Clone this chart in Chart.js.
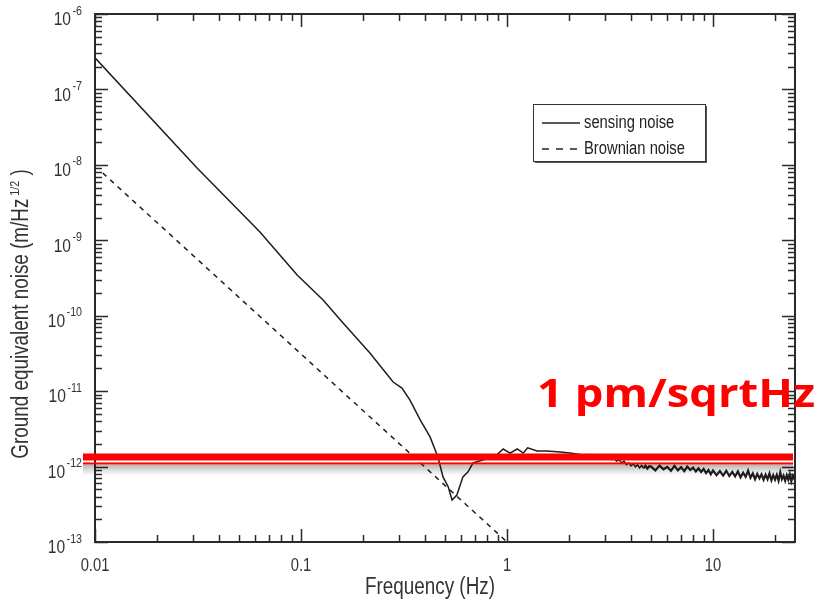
<!DOCTYPE html>
<html>
<head>
<meta charset="utf-8">
<script src="https://cdn.jsdelivr.net/npm/chart.js@4"></script>
<style>
  html, body { margin: 0; padding: 0; background: #fff; }
</style>
</head>
<body>
<canvas id="noise-chart" width="819" height="601"></canvas>
<script>
// sensing noise (Hz, m/Hz^1/2)
const sensingFreq = [
  0.01, 0.0313, 0.0632, 0.0958, 0.128, 0.160, 0.216, 0.280, 0.309, 0.338,
  0.379, 0.423, 0.462, 0.489, 0.518, 0.541, 0.571, 0.611, 0.647, 0.684,
  0.764, 0.893, 0.958, 1.035, 1.12, 1.20, 1.26, 1.40, 1.56, 1.81, 2.02,
  2.3, 2.4, 2.5, 2.6, 2.7, 2.8, 2.9, 3.0, 3.1, 3.2, 3.3, 3.4, 3.5, 3.6,
  3.7, 3.8, 3.9, 4.0, 4.1, 4.2, 4.3, 4.4, 4.5, 4.6, 4.7, 4.8, 4.9,
  5.0, 5.25, 5.5, 5.75, 6.0, 6.25, 6.5, 6.75, 7.0, 7.25, 7.5, 7.75, 8.0,
  8.25, 8.5, 8.75, 9.0, 9.25, 9.5, 9.75, 10.0,
  10.4, 10.8, 11.2, 11.6, 12.0, 12.4, 12.8, 13.2, 13.6, 14.0, 14.4, 14.8,
  15.2, 15.6, 16.0, 16.4, 16.8, 17.2, 17.6, 18.0, 18.4, 18.8, 19.2, 19.6,
  20.0, 20.4, 20.8, 21.2, 21.6, 22.0, 22.4, 22.8, 23.2, 23.6, 24.0, 24.4,
  24.8, 25
];
const sensingNoise = [
  2.62e-7, 9.1e-9, 1.29e-9, 3.47e-10, 1.62e-10, 8.0e-11, 3.2e-11, 1.32e-11, 1.10e-11, 7.6e-12,
  4.15e-12, 2.47e-12, 1.34e-12, 7.3e-13, 5.4e-13, 3.6e-13, 4.2e-13, 7.3e-13, 8.5e-13, 1.12e-12,
  1.22e-12, 1.43e-12, 1.71e-12, 1.51e-12, 1.71e-12, 1.51e-12, 1.77e-12, 1.61e-12, 1.61e-12, 1.56e-12, 1.51e-12,
  1.43e-12, 1.40e-12, 1.44e-12, 1.37e-12, 1.41e-12, 1.34e-12, 1.38e-12, 1.29e-12, 1.33e-12, 1.24e-12, 1.29e-12, 1.18e-12, 1.23e-12, 1.12e-12,
  1.18e-12, 1.06e-12, 1.12e-12, 1.02e-12, 1.09e-12, 0.99e-12, 1.06e-12, 0.96e-12, 1.04e-12, 0.95e-12, 1.03e-12, 0.94e-12, 1.01e-12,
  1.00e-12, 0.89e-12, 1.03e-12, 0.92e-12, 0.99e-12, 0.88e-12, 1.02e-12, 0.89e-12, 0.98e-12, 0.87e-12, 1.00e-12, 0.90e-12, 0.97e-12,
  0.86e-12, 0.95e-12, 0.85e-12, 0.93e-12, 0.82e-12, 0.90e-12, 0.79e-12, 0.89e-12,
  7.7e-13, 8.7e-13, 7.6e-13, 8.8e-13, 7.5e-13, 8.5e-13, 7.4e-13, 8.6e-13, 7.2e-13, 8.3e-13, 7.3e-13, 8.8e-13,
  7.1e-13, 8.1e-13, 6.8e-13, 8.0e-13, 7.0e-13, 7.9e-13, 6.7e-13, 7.8e-13, 6.8e-13, 8.1e-13, 6.6e-13, 7.7e-13,
  6.7e-13, 7.8e-13, 6.5e-13, 8.4e-13, 6.8e-13, 7.6e-13, 6.5e-13, 7.7e-13, 6.7e-13, 7.9e-13, 6.4e-13, 7.5e-13,
  6.9e-13, 7.6e-13
];

// brownian noise is a straight line on log-log
const brownianFreq = [0.0109, 1.0];
const brownianNoise = [7.8e-9, 1.0e-13];

const xDecades = [0.01, 0.1, 1, 10];
const yExponents = [-13, -12, -11, -10, -9, -8, -7, -6];
const xMin = 0.01, xMax = 25;
const yMin = 1e-13, yMax = 1e-6;

// red "1 pm/sqrtHz" marker lines
const pmLevel = 1.34e-12;
const pmLevelThin = 1.1e-12;

const FONT = "'Liberation Sans', Arial, sans-serif";
const NARROW = 0.82; // original uses a condensed face
const INK = '#2a2a2a';

const toPoints = (xs, ys) => xs.map((f, i) => ({ x: f, y: ys[i] }));

// draw condensed text, returns its drawn width
const narrowText = (ctx, text, x, y, size, align = 'left') => {
    ctx.save();
    ctx.font = `${size}px ${FONT}`;
    const w = ctx.measureText(text).width * NARROW;
    ctx.translate(x, y);
    ctx.scale(NARROW, 1);
    ctx.textAlign = align;
    ctx.fillText(text, 0, 0);
    ctx.restore();
    return w;
};
const narrowWidth = (ctx, text, size) => {
    ctx.save();
    ctx.font = `${size}px ${FONT}`;
    const w = ctx.measureText(text).width * NARROW;
    ctx.restore();
    return w;
};

// frame, inward ticks, labels
const axesPlugin = {
    id: 'axesPlugin',
    beforeDatasetsDraw(chart) {
        const { ctx, chartArea: a, scales: { x, y } } = chart;
        ctx.save();
        ctx.strokeStyle = INK;
        ctx.lineWidth = 1.5;
        ctx.beginPath();
        xDecades.forEach((d) => {
            for (let m = 1; m <= 9; m++) {
                const v = d * m;
                if (v > xMax * 1.0001) break;
                const px = Math.round(x.getPixelForValue(v)) + 0.5;
                const len = m === 1 ? 13 : 7;
                ctx.moveTo(px, a.bottom); ctx.lineTo(px, a.bottom - len);
                ctx.moveTo(px, a.top); ctx.lineTo(px, a.top + len);
            }
        });
        yExponents.forEach((e) => {
            for (let m = 1; m <= 9; m++) {
                const v = m * Math.pow(10, e);
                if (v > yMax * 1.0001) break;
                const py = Math.round(y.getPixelForValue(v)) + 0.5;
                const len = m === 1 ? 13 : 7;
                ctx.moveTo(a.left, py); ctx.lineTo(a.left + len, py);
                ctx.moveTo(a.right, py); ctx.lineTo(a.right - len, py);
            }
        });
        ctx.stroke();

        ctx.lineWidth = 2;
        ctx.strokeRect(a.left, a.top, a.right - a.left, a.bottom - a.top);

        ctx.fillStyle = '#333';
        ctx.textBaseline = 'middle';

        // x tick labels
        xDecades.forEach((d) => {
            narrowText(ctx, String(d), x.getPixelForValue(d), a.bottom + 24, 18, 'center');
        });

        // y tick labels: 10 with exponent
        yExponents.forEach((e) => {
            const py = y.getPixelForValue(Math.pow(10, e));
            const exp = String(e);
            const right = a.left - 13;
            const we = narrowWidth(ctx, exp, 13);
            narrowText(ctx, exp, right - we, py - 3, 13, 'left');
            narrowText(ctx, '10', right - we - 1.5, py + 6, 19, 'right');
        });

        // y title, rotated, with superscript 1/2
        ctx.save();
        ctx.translate(22, (a.top + a.bottom) / 2 + 36);
        ctx.rotate(-Math.PI / 2);
        const main = 'Ground equivalent noise (m/Hz';
        const sup = '1/2';
        const tail = ' )';
        const w1 = narrowWidth(ctx, main, 23);
        const w2 = narrowWidth(ctx, sup, 13);
        const w3 = narrowWidth(ctx, tail, 23);
        const sx = -(w1 + 3 + w2 + w3) / 2;
        narrowText(ctx, main, sx, 0, 23);
        narrowText(ctx, sup, sx + w1 + 3, -7, 13);
        narrowText(ctx, tail, sx + w1 + 3 + w2, 0, 23);
        ctx.restore();

        // x title
        narrowText(ctx, 'Frequency (Hz)', 430, 588, 23, 'center');
        ctx.restore();
    },
    afterDatasetsDraw(chart) {
        const { ctx, chartArea: a, scales: { y } } = chart;
        ctx.save();

        // red marker with a soft shadow under it
        const yThick = y.getPixelForValue(pmLevel);
        const yThin = y.getPixelForValue(pmLevelThin);
        const x0 = a.left - 12, x1 = a.right - 2;
        const grad = ctx.createLinearGradient(0, yThin + 1, 0, yThin + 12);
        grad.addColorStop(0, 'rgba(0,0,0,0.28)');
        grad.addColorStop(1, 'rgba(0,0,0,0)');
        ctx.fillStyle = grad;
        ctx.fillRect(x0, yThin + 1, x1 - x0, 11);
        ctx.fillStyle = '#ff0000';
        ctx.fillRect(x0, yThick - 3.5, x1 - x0, 7);
        ctx.fillRect(x0, yThin - 1, x1 - x0, 2);

        // "1 pm/sqrtHz" label, stretched to the width in the picture
        const label = '1 pm/sqrtHz';
        ctx.font = "bold 40px 'Open Sans', sans-serif";
        const lw = ctx.measureText(label).width;
        const target = 278;
        ctx.save();
        ctx.translate(a.right - 258, yThick - 50);
        ctx.scale(target / lw, 1);
        ctx.textAlign = 'left';
        ctx.textBaseline = 'alphabetic';
        ctx.fillText(label, 0, 0);
        ctx.restore();

        // legend box
        const bx = 533, by = 104, bw = 172, bh = 57;
        ctx.fillStyle = '#555';
        ctx.fillRect(bx + 2, by + 2, bw, bh);
        ctx.fillStyle = '#fff';
        ctx.fillRect(bx, by, bw, bh);
        ctx.strokeStyle = '#333';
        ctx.lineWidth = 1;
        ctx.strokeRect(bx + 0.5, by + 0.5, bw, bh);

        ctx.strokeStyle = '#222';
        ctx.lineWidth = 1.5;
        ctx.beginPath();
        ctx.moveTo(542, 123); ctx.lineTo(580, 123);
        ctx.stroke();
        ctx.setLineDash([7, 7]);
        ctx.beginPath();
        ctx.moveTo(542, 149); ctx.lineTo(580, 149);
        ctx.stroke();
        ctx.setLineDash([]);

        ctx.fillStyle = '#222';
        ctx.textBaseline = 'middle';
        narrowText(ctx, 'sensing noise', 584, 123, 18);
        narrowText(ctx, 'Brownian noise', 584, 149, 18);
        ctx.restore();
    }
};

new Chart(document.getElementById('noise-chart'), {
    type: 'line',
    data: {
        datasets: [
            {
                label: 'sensing noise',
                data: toPoints(sensingFreq, sensingNoise),
                borderColor: '#1e1e1e',
                borderWidth: 1.5,
                pointRadius: 0,
                tension: 0,
                segment: {
                    borderWidth: (c) => (c.p0.parsed.x > 4.5 ? 2.2 : 1.5),
                },
            },
            {
                label: 'Brownian noise',
                data: toPoints(brownianFreq, brownianNoise),
                borderColor: '#1e1e1e',
                borderWidth: 1.5,
                borderDash: [5, 5],
                pointRadius: 0,
                tension: 0,
            },
        ],
    },
    options: {
        responsive: false,
        animation: false,
        layout: { padding: { left: 0, right: 24, top: 14, bottom: 0 } },
        scales: {
            x: {
                type: 'logarithmic',
                min: xMin,
                max: xMax,
                grid: { display: false, drawTicks: false },
                border: { display: false },
                ticks: { display: false },
                afterFit: (s) => { s.height = 59; },
            },
            y: {
                type: 'logarithmic',
                min: yMin,
                max: yMax,
                grid: { display: false, drawTicks: false },
                border: { display: false },
                ticks: { display: false },
                afterFit: (s) => { s.width = 95; },
            },
        },
        plugins: {
            legend: { display: false },
            tooltip: { enabled: false },
        },
    },
    plugins: [axesPlugin],
});
</script>
</body>
</html>
